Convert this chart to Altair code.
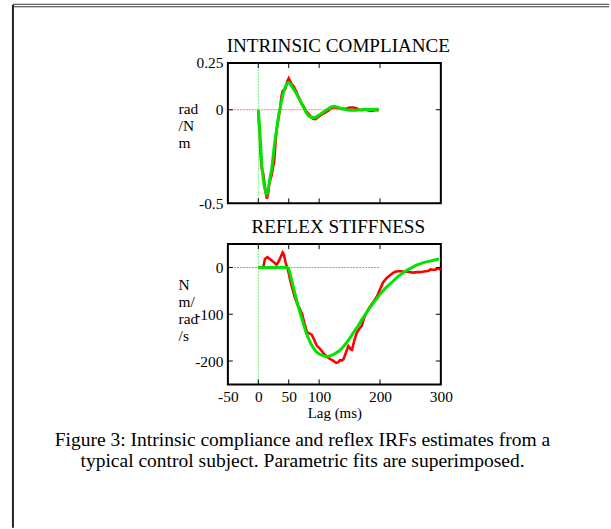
import altair as alt
import pandas as pd

# ---------------- data ----------------
ic_lag = [0, 2, 4, 6, 8, 10, 12, 14, 16, 18, 20, 22, 24, 26, 28, 30, 32, 34, 36, 38,
          40, 42, 44, 46, 48, 50, 52, 55, 58, 62, 66, 70, 74, 78, 82, 86, 90, 94, 98,
          102, 106, 110, 115, 120, 125, 130, 135, 140, 145, 150, 155, 160, 165, 170,
          175, 180, 185, 190, 195, 198]
ic_measured = [-0.02, -0.12, -0.25, -0.32, -0.34, -0.39, -0.44, -0.475, -0.45, -0.40,
               -0.37, -0.35, -0.31, -0.28, -0.19, -0.11, -0.07, -0.03, 0.01, 0.07,
               0.10, 0.105, 0.11, 0.13, 0.155, 0.168, 0.155, 0.135, 0.125, 0.10, 0.07,
               0.04, 0.02, -0.005, -0.02, -0.035, -0.048, -0.05, -0.04, -0.03, -0.022,
               -0.015, -0.005, 0.008, 0.013, 0.01, 0.006, 0.004, 0.006, 0.012, 0.012,
               0.01, 0.002, -0.002, 0.001, -0.003, -0.006, -0.004, -0.001, -0.002]
ic_fit = [0.0, -0.09, -0.2, -0.30, -0.37, -0.41, -0.44, -0.45, -0.43, -0.39,
          -0.35, -0.32, -0.26, -0.20, -0.15, -0.11, -0.06, -0.02, 0.01, 0.045,
          0.075, 0.10, 0.12, 0.133, 0.142, 0.145, 0.14, 0.125, 0.11, 0.09, 0.065,
          0.04, 0.015, -0.012, -0.03, -0.04, -0.043, -0.04, -0.032, -0.024, -0.015,
          -0.005, 0.005, 0.015, 0.018, 0.014, 0.008, 0.004, 0.0, -0.002, -0.003,
          -0.002, -0.001, 0.0, 0.001, 0.001, 0.001, 0.002, 0.003, 0.003]

rs_lag = [0, 5, 8, 11, 15, 20, 25, 30, 33, 36, 40, 42, 45, 48, 50, 52, 56, 60, 64, 68,
          72, 76, 80, 84, 88, 92, 96, 100, 104, 108, 112, 116, 120, 124, 128, 131,
          134, 137, 140, 144, 148, 152, 154, 158, 162, 166, 170, 174, 178, 182, 186,
          190, 195, 200, 205, 210, 215, 220, 225, 230, 235, 240, 245, 250, 255, 260,
          265, 270, 275, 280, 283, 287, 291, 294, 297, 300]
rs_measured = [0, 0, 0, 18, 22, 17, 12, 6, 12, 20, 32, 28, 10, -2, -12, -25, -45, -64,
               -78, -88, -100, -120, -138, -141, -144, -155, -167, -172, -178, -185,
               -190, -194, -197, -200, -204, -203, -198, -199, -196, -182, -168, -175,
               -176, -155, -139, -131, -125, -107, -96, -87, -79, -72, -62, -47, -32,
               -24, -18, -13, -9, -8, -8, -9, -9, -10, -11, -10, -10, -9, -8, -7, -4,
               -5, -5, -2, -3, -4]
rs_fit_lag = [0, 10, 20, 30, 40, 48, 50, 52, 55, 58, 62, 66, 70, 74, 78, 82, 86, 90, 95,
              100, 105, 110, 115, 120, 125, 130, 135, 140, 145, 150, 155, 160, 165, 170,
              175, 180, 185, 190, 195, 200, 210, 220, 230, 240, 250, 260, 270, 280, 290,
              297]
rs_fit = [0, 0, 0, 0, 0, 0, -3, -12, -28, -44, -65, -85, -103, -120, -137, -150, -162,
          -171, -180, -185, -188, -190, -190, -188, -185, -181, -176, -169, -161, -152,
          -142, -132, -123, -112, -102, -92, -83, -74, -66, -57, -43, -31, -19, -9, -2,
          5, 10, 13, 16, 18]

x_ticks = [-50, 0, 50, 100, 200, 300]
inner_x_ticks = [0, 50, 100, 200]
ic_y_ticks = [0.25, 0, -0.5]
rs_y_ticks = [0, -100, -200]
ref_span = [-50, 200]

titles = ["INTRINSIC COMPLIANCE", "REFLEX STIFFNESS"]
caption = ["Figure 3: Intrinsic compliance and reflex IRFs estimates from a",
           "typical control subject. Parametric fits are superimposed."]

# ---------------- style ----------------
W, H = 214, 141
FONT = "Liberation Serif"
RED = "#ff0000"
GREEN = "#00e400"


def panel(title, lag_m, val_m, lag_f, val_f, ydom, yticks, ytitle, ytitle_y,
          show_x, extra=None):
    xs = alt.Scale(domain=[-50, 300], nice=False, zero=False)
    ys = alt.Scale(domain=ydom, nice=False, zero=False)
    if show_x:
        xaxis = alt.Axis(values=x_ticks, labelExpr="'' + datum.value", tickSize=0,
                         domain=False, grid=False, labelPadding=5, labelFontSize=15.5,
                         labelFont=FONT, labelColor="black", title="Lag (ms)",
                         titleFont=FONT, titleFontSize=15, titleFontWeight="normal",
                         titleColor="black", titlePadding=1, labelFlush=False,
                         labelOverlap=False)
    else:
        xaxis = None
    yaxis = alt.Axis(values=yticks, labelExpr="'' + datum.value", tickSize=0,
                     domain=False, grid=False, labelPadding=5, labelFontSize=15.5,
                     labelFont=FONT, labelColor="black", title=ytitle,
                     titleAngle=0, titleAlign="left", titleBaseline="alphabetic",
                     titleX=-50, titleY=ytitle_y, titleFont=FONT, titleFontSize=15.5,
                     titleFontWeight="normal", titleColor="black", titleLineHeight=17,
                     labelFlush=False, labelOverlap=False)

    meas = pd.DataFrame({"lag": lag_m, "val": val_m})
    fit = pd.DataFrame({"lag": lag_f, "val": val_f})

    red = alt.Chart(meas).mark_line(color=RED, strokeWidth=2.6).encode(
        x=alt.X("lag:Q", scale=xs, axis=xaxis),
        y=alt.Y("val:Q", scale=ys, axis=yaxis))
    green = alt.Chart(fit).mark_line(color=GREEN, strokeWidth=3).encode(
        x=alt.X("lag:Q", scale=xs), y=alt.Y("val:Q", scale=ys))

    ref_h = alt.Chart(pd.DataFrame({"lag": [ref_span[0]], "lag2": [ref_span[1]],
                                    "val": [0]})).mark_rule(
        color="#ff7070", strokeWidth=1, strokeDash=[2, 1]).encode(
        x=alt.X("lag:Q", scale=xs), x2="lag2:Q", y=alt.Y("val:Q", scale=ys))
    ref_v = alt.Chart(pd.DataFrame({"lag": [0]})).mark_rule(
        color="#70f070", strokeWidth=1, strokeDash=[2, 1]).encode(
        x=alt.X("lag:Q", scale=xs))

    xt = pd.DataFrame({"lag": inner_x_ticks})
    yt = pd.DataFrame({"val": yticks})
    tick_top = alt.Chart(xt).mark_rule(color="black", strokeWidth=1).encode(
        x=alt.X("lag:Q", scale=xs), y=alt.value(0), y2=alt.value(5))
    tick_bot = alt.Chart(xt).mark_rule(color="black", strokeWidth=1).encode(
        x=alt.X("lag:Q", scale=xs), y=alt.value(H - 5), y2=alt.value(H))
    tick_l = alt.Chart(yt).mark_rule(color="black", strokeWidth=1).encode(
        y=alt.Y("val:Q", scale=ys), x=alt.value(0), x2=alt.value(5))
    tick_r = alt.Chart(yt).mark_rule(color="black", strokeWidth=1).encode(
        y=alt.Y("val:Q", scale=ys), x=alt.value(W - 5), x2=alt.value(W))

    title_text = alt.Chart(pd.DataFrame({"lag": [0]})).mark_text(
        font=FONT, fontSize=19.2, color="black", align="center",
        baseline="alphabetic").encode(x=alt.value(111), y=alt.value(-11),
                                      text=alt.value(title))

    layers = [red, ref_h, ref_v, tick_top, tick_bot, tick_l, tick_r, green, title_text]
    if extra:
        layers += extra
    return alt.layer(*layers).properties(width=W, height=H)


dummy = pd.DataFrame({"lag": [0]})
# page frame (left line and double top line), positioned relative to the top panel
border_left = alt.Chart(dummy).mark_rule(color="#222222", strokeWidth=2).encode(
    x=alt.value(-216), y=alt.value(-58.5), y2=alt.value(467))
border_top1 = alt.Chart(dummy).mark_rule(color="#333333", strokeWidth=1).encode(
    x=alt.value(-216), x2=alt.value(383), y=alt.value(-59))
border_top2 = alt.Chart(dummy).mark_rule(color="#333333", strokeWidth=1.2).encode(
    x=alt.value(-216), x2=alt.value(383), y=alt.value(-56.5))

caption_layer = alt.Chart(dummy).mark_text(
    font=FONT, fontSize=19.6, color="black", align="center", baseline="alphabetic",
    lineHeight=21).encode(x=alt.value(75), y=alt.value(203), text=alt.value(caption))

top = panel(titles[0], ic_lag, ic_measured, ic_lag, ic_fit,
            [-0.5, 0.25], ic_y_ticks, ["rad", "/N", "m"], 51, False,
            [border_left, border_top1, border_top2])
bottom = panel(titles[1], rs_lag, rs_measured, rs_fit_lag, rs_fit,
               [-250, 50], rs_y_ticks, ["N", "m/", "rad", "/s"], 46, True,
               [caption_layer])

chart = alt.vconcat(top, bottom, spacing=41, bounds="flush").properties(
    padding={"left": 11, "top": 1, "right": 0, "bottom": 0},
    background="white",
).configure_view(stroke="black", strokeWidth=2)

chart.save("out.html", embed_options={"renderer": "svg", "actions": False})
